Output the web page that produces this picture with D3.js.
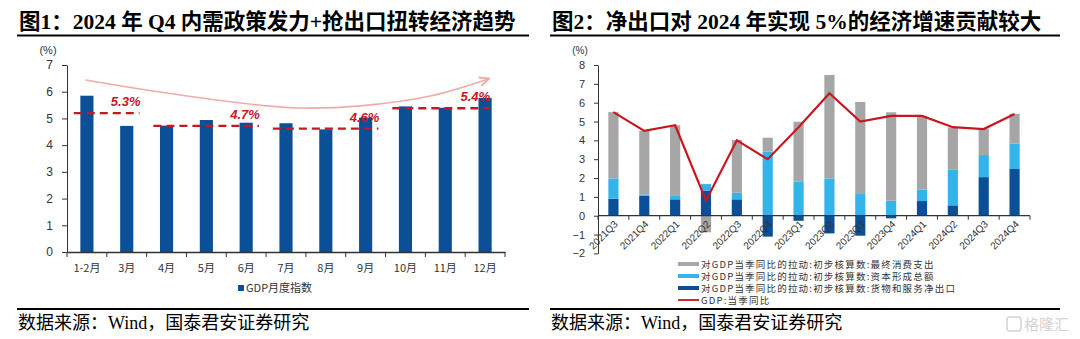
<!DOCTYPE html>
<html><head><meta charset="utf-8">
<script src="https://cdn.jsdelivr.net/npm/d3@7"></script>
<style>body{margin:0;background:#fff}svg{display:block}</style>
</head><body><svg id="c" width="1080" height="339"></svg>
<script>
// ---------- DATA: chart 1 ----------
const months = ["1-2月","3月","4月","5月","6月","7月","8月","9月","10月","11月","12月"];
const gdpMonthly = [5.85,4.72,4.73,4.94,4.84,4.82,4.59,5.03,5.45,5.40,5.77];
const leftTicks = [0,1,2,3,4,5,6,7];
const quarterFirst = [0,2,5,8];
const quarterLast  = [1,4,7,10];
const quarterLevels = [5.2,4.72,4.62,5.38];
const quarterLabels = ["5.3%","4.7%","4.6%","5.4%"];
const trendIdx = [-0.03,1.83,4.52,5.35,6.86,8.62,10.08];
const trendVal = [6.44,5.99,5.47,5.39,5.47,5.84,6.48];

// ---------- DATA: chart 2 ----------
const quarters = ["2021Q3","2021Q4","2022Q1","2022Q2","2022Q3","2022Q4","2023Q1","2023Q2","2023Q3","2023Q4","2024Q1","2024Q2","2024Q3","2024Q4"];
const consumption = [3.52,3.38,3.75,-0.88,2.80,0.74,3.19,5.49,4.89,4.69,3.91,2.23,1.40,1.59];
const capital     = [1.08,0.07,0.18,0.35,0.35,3.40,1.80,1.98,1.15,0.80,0.60,1.91,1.17,1.34];
const netExports  = [0.90,1.06,0.87,1.33,0.87,-1.11,-0.27,-0.94,-1.06,-0.14,0.78,0.55,2.05,2.48];
const gdpQuarterly = [5.5,4.5,4.8,0.8,4.0,3.0,4.7,6.5,5.0,5.3,5.3,4.7,4.6,5.4];
const rightTicks = [-2,-1,0,1,2,3,4,5,6,7,8];
const seriesNames = ["对GDP当季同比的拉动:初步核算数:最终消费支出","对GDP当季同比的拉动:初步核算数:资本形成总额","对GDP当季同比的拉动:初步核算数:货物和服务净出口","GDP:当季同比"];

// ---------- STYLE ----------
const DARK = "#0B4F97", LIGHT = "#33B4EA", GRAY = "#A6A6A6", RED = "#C8171E";
const CJK = "'Noto Sans CJK SC', sans-serif";
const SANS = "'Liberation Sans', Arial, sans-serif";
const SERIF = "'Liberation Serif', 'Noto Sans CJK SC', serif";

const svg = d3.select("#c");
const defs = svg.append("defs");
defs.append("marker").attr("id","arr").attr("viewBox","0 0 10 10").attr("refX",8).attr("refY",5)
  .attr("markerWidth",7).attr("markerHeight",7).attr("orient","auto")
  .append("path").attr("d","M0,1 L9,5 L0,9").attr("fill","none").attr("stroke","#F2AAA8").attr("stroke-width",1.6);

// titles
function title(x0, x1, txt){
  svg.append("text").attr("x",x0+2).attr("y",29).text(txt)
    .attr("font-family",SERIF).attr("font-weight","bold").attr("font-size",21.5).attr("fill","#000");
  svg.append("line").attr("x1",x0).attr("x2",x1).attr("y1",35.5).attr("y2",35.5).attr("stroke","#000").attr("stroke-width",2);
  svg.append("line").attr("x1",x0).attr("x2",x1).attr("y1",309).attr("y2",309).attr("stroke","#000").attr("stroke-width",2);
  svg.append("text").attr("x",x0+1).attr("y",329).text("数据来源：Wind，国泰君安证券研究")
    .attr("font-family",SERIF).attr("font-size",18).attr("fill","#000");
}
title(17,529,"图1：2024 年 Q4 内需政策发力+抢出口扭转经济趋势");
title(550,1060,"图2：净出口对 2024 年实现 5%的经济增速贡献较大");

// ---------- CHART 1 ----------
{
  const x = d3.scaleBand().domain(months).range([67,505]).padding(0);
  const step = x.step(), bw = step*0.33;
  const y = d3.scaleLinear().domain([0,7]).range([252,65]);
  const xi = d3.scaleLinear().domain([0,1]).range([x(months[0])+step/2, x(months[1])+step/2]);
  const g = svg.append("g");

  g.selectAll("rect.bar").data(gdpMonthly).join("rect").attr("class","bar")
    .attr("x",(d,i)=>x(months[i])+step/2-bw/2).attr("width",bw)
    .attr("y",d=>y(d)).attr("height",d=>y(0)-y(d)).attr("fill",DARK);

  const ya = g.append("g").attr("transform","translate(67,0)")
    .call(d3.axisLeft(y).tickValues(leftTicks).tickFormat(d3.format("d")).tickSize(5).tickPadding(9).tickSizeOuter(0));
  ya.select(".domain").attr("stroke","#333");
  ya.selectAll("line").attr("stroke","#333");
  ya.selectAll("text").attr("font-family",SANS).attr("font-size",12).attr("fill","#333");

  const xa = g.append("g").attr("transform","translate(0,252)")
    .call(d3.axisBottom(x).tickSize(0).tickPadding(12));
  xa.select(".domain").attr("stroke","#333").attr("stroke-width",1.3);
  xa.selectAll("text").attr("font-family",CJK).attr("font-size",11).attr("fill","#333");
  g.selectAll("line.xt").data(d3.range(months.length+1)).join("line").attr("class","xt")
    .attr("x1",i=>67+i*step).attr("x2",i=>67+i*step).attr("y1",252).attr("y2",257).attr("stroke","#333");

  // trend arrow
  const pts = trendIdx.map((t,i)=>[xi(t), y(trendVal[i])]);
  g.append("path").attr("d",d3.line().curve(d3.curveCatmullRom)(pts))
    .attr("fill","none").attr("stroke","#F2AAA8").attr("stroke-width",1.6).attr("marker-end","url(#arr)");

  // quarterly averages
  quarterLevels.forEach((v,i)=>{
    const xa0 = xi(quarterFirst[i]-0.33), xa1 = xi(quarterLast[i]+(i===3?0.1:0.32));
    g.append("line").attr("x1",xa0).attr("x2",xa1).attr("y1",y(v)).attr("y2",y(v))
      .attr("stroke",RED).attr("stroke-width",2.4).attr("stroke-dasharray","8,5");
    g.append("text").attr("x",xa1+1).attr("y",y(v)-7).attr("text-anchor","end").text(quarterLabels[i])
      .attr("font-family",SANS).attr("font-weight","bold").attr("font-style","italic")
      .attr("font-size",13).attr("fill",RED);
  });

  g.append("text").attr("x",48).attr("y",54).attr("text-anchor","middle").text("(%)")
    .attr("font-family",SANS).attr("font-size",11).attr("fill","#333");
  g.append("rect").attr("x",238).attr("y",285).attr("width",6).attr("height",6).attr("fill",DARK);
  g.append("text").attr("x",246).attr("y",292).text("GDP月度指数")
    .attr("font-family",CJK).attr("font-size",11).attr("fill","#333");
}

// ---------- CHART 2 ----------
{
  const x = d3.scaleBand().domain(quarters).range([598,1030]).padding(0);
  const step = x.step(), bw = step*0.33;
  const y = d3.scaleLinear().domain([-2,8]).range([253.4,65]);
  const g = svg.append("g");
  const rows = quarters.map((q,i)=>({q:q, net:netExports[i], cap:capital[i], con:consumption[i]}));
  const keys = ["net","cap","con"], cols = {net:DARK, cap:LIGHT, con:GRAY};
  const stacked = d3.stack().keys(keys).offset(d3.stackOffsetDiverging)(rows);
  g.selectAll("g.s").data(stacked).join("g").attr("class","s").attr("fill",s=>cols[s.key])
    .selectAll("rect").data(s=>s).join("rect")
    .attr("x",d=>x(d.data.q)+step/2-bw/2).attr("width",bw)
    .attr("y",d=>y(Math.max(d[0],d[1]))).attr("height",d=>Math.abs(y(d[0])-y(d[1])));

  const ya = g.append("g").attr("transform","translate(598,0)")
    .call(d3.axisLeft(y).tickValues(rightTicks).tickSize(4).tickPadding(9).tickSizeOuter(0));
  ya.select(".domain").attr("stroke","#333");
  ya.selectAll("line").attr("stroke","#333");
  ya.selectAll("text").attr("font-family",SANS).attr("font-size",11).attr("fill","#333");

  const x0 = y(0);
  g.append("line").attr("x1",598).attr("x2",1030).attr("y1",x0).attr("y2",x0).attr("stroke","#333").attr("stroke-width",1.3);
  g.selectAll("line.xt").data(d3.range(quarters.length+1)).join("line").attr("class","xt")
    .attr("x1",i=>598+i*step).attr("x2",i=>598+i*step).attr("y1",x0).attr("y2",x0+4).attr("stroke","#333");
  g.selectAll("text.xl").data(quarters).join("text").attr("class","xl")
    .attr("transform",d=>`translate(${x(d)+step/2+5},${x0+9}) rotate(-45)`)
    .attr("text-anchor","end").text(d=>d)
    .attr("font-family",SANS).attr("font-size",10).attr("fill","#333");

  g.append("path").datum(gdpQuarterly)
    .attr("d",d3.line().x((d,i)=>x(quarters[i])+step/2).y(d=>y(d)))
    .attr("fill","none").attr("stroke",RED).attr("stroke-width",2.2);

  g.append("text").attr("x",580).attr("y",54).attr("text-anchor","middle").text("(%)")
    .attr("font-family",SANS).attr("font-size",10).attr("fill","#333");

  // legend
  const ly = [264,276,288,300];
  const lc = [GRAY, LIGHT, DARK, RED];
  seriesNames.forEach((n,i)=>{
    if(i<3) g.append("rect").attr("x",678).attr("y",ly[i]-2).attr("width",21).attr("height",4).attr("fill",lc[i]);
    else g.append("line").attr("x1",678).attr("x2",699).attr("y1",ly[i]).attr("y2",ly[i]).attr("stroke",RED).attr("stroke-width",1.8);
    g.append("text").attr("x",701).attr("y",ly[i]+3.5).text(n)
      .attr("font-family",CJK).attr("font-size",9.5).attr("letter-spacing",1.2).attr("fill","#333");
  });
}

// watermark
svg.append("rect").attr("x",1007).attr("y",317).attr("width",14).attr("height",14).attr("rx",3)
  .attr("fill","none").attr("stroke","#d4d4d4").attr("stroke-width",1.5);
svg.append("text").attr("x",1024).attr("y",330).text("格隆汇")
  .attr("font-family",CJK).attr("font-size",15).attr("fill","#d4d4d4");
</script></body></html>
